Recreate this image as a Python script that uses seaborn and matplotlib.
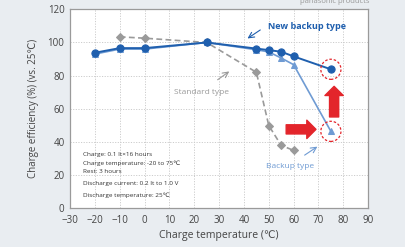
import matplotlib
matplotlib.use("Agg")
import matplotlib.pyplot as plt
import seaborn as sns
import pandas as pd

# data (charge temperature in deg C, efficiency in %)
temp_new = [-20, -10, 0, 25, 45, 50, 55, 60, 75]
eff_new = [93.8, 96.6, 96.6, 100, 96.3, 95.4, 94.4, 91.6, 83.8]

temp_backup = [-20, -10, 0, 25, 45, 50, 55, 60, 75]
eff_backup = [93.0, 96.0, 96.0, 100, 95.6, 94.3, 90.6, 86.6, 46.3]

temp_std = [-10, 0, 25, 45, 50, 55, 60]
eff_std = [103.4, 102.6, 100, 82.0, 49.8, 37.8, 34.8]

x_ticks = [-30, -20, -10, 0, 10, 20, 30, 40, 50, 60, 70, 80, 90]
y_ticks = [0, 20, 40, 60, 80, 100, 120]

conditions = ["Charge: 0.1 It×16 hours",
              "Charge temperature: -20 to 75℃",
              "Rest: 3 hours",
              "Discharge current: 0.2 It to 1.0 V",
              "Discharge temperature: 25℃"]

dark_blue = "#1f5fae"
light_blue = "#6f9bd3"
grey = "#9a9a9a"
red = "#e3252b"

sns.set_style("white")
plt.rcParams['font.family'] = ['Open Sans', 'DejaVu Sans']

fig = plt.figure(figsize=(4.05, 2.47), dpi=100, facecolor="#e9edf1")
ax = fig.add_axes([0.173, 0.158, 0.736, 0.804])
ax.set_facecolor("white")

df_std = pd.DataFrame({"t": temp_std, "e": eff_std})
df_bk = pd.DataFrame({"t": temp_backup, "e": eff_backup})
df_new = pd.DataFrame({"t": temp_new, "e": eff_new})

sns.lineplot(data=df_std, x="t", y="e", ax=ax, color=grey, linestyle=(0, (3.5, 2)),
             linewidth=1.2, marker="D", markersize=4.2, markeredgecolor=grey)
sns.lineplot(data=df_bk, x="t", y="e", ax=ax, color=light_blue, linewidth=1.2,
             marker="^", markersize=4.2, markeredgecolor=light_blue)
sns.lineplot(data=df_new, x="t", y="e", ax=ax, color=dark_blue, linewidth=1.4,
             marker="o", markersize=5.2, markeredgecolor=dark_blue)

ax.set_xlim(-30, 90)
ax.set_ylim(0, 120)
ax.set_xticks(x_ticks)
ax.set_yticks(y_ticks)
ax.tick_params(axis="x", labelsize=7, length=0, pad=5, colors="#444444")
ax.tick_params(axis="y", labelsize=7, length=0, pad=4, colors="#444444")
ax.grid(True, color="#cccccc", linestyle=(0, (1.2, 1.5)), linewidth=0.7)
for s in ax.spines.values():
    s.set_color("#9a9a9a")
    s.set_linewidth(0.9)

ax.set_xlabel("Charge temperature (℃)", fontsize=7.5, color="#444444", labelpad=3)
ax.set_ylabel("Charge efficiency (%) (vs. 25℃)", fontsize=7, color="#444444", labelpad=6)

# dashed red circles around the 75 deg points
ax.scatter([75, 75], [eff_new[-1], eff_backup[-1]], s=210, facecolors="none",
           edgecolors=red, linewidths=0.9, linestyle=(0, (2, 1.5)), zorder=5)

# red arrows
ax.annotate("", xy=(69, 47.5), xytext=(57, 47.5),
            arrowprops=dict(arrowstyle="simple,head_length=0.6,head_width=1.2,tail_width=0.6",
                            color=red, shrinkA=0, shrinkB=0, mutation_scale=11))
ax.annotate("", xy=(76.3, 73.5), xytext=(76.3, 55),
            arrowprops=dict(arrowstyle="simple,head_length=0.6,head_width=1.2,tail_width=0.6",
                            color=red, shrinkA=0, shrinkB=0, mutation_scale=11))

# series labels with thin arrows
ax.text(49.5, 109.5, "New backup type", fontsize=6.5, fontweight="bold",
        color=dark_blue, va="center")
ax.annotate("", xy=(40.5, 101.5), xytext=(47.5, 108.5),
            arrowprops=dict(arrowstyle="->", color=dark_blue, lw=0.8))
ax.text(23, 70, "Standard type", fontsize=6, color=grey, ha="center", va="center")
ax.annotate("", xy=(35, 83.5), xytext=(28.5, 76.5),
            arrowprops=dict(arrowstyle="->", color=grey, lw=0.8))
ax.text(58.5, 25, "Backup type", fontsize=6, color=light_blue, ha="center", va="center")
ax.annotate("", xy=(70.5, 38), xytext=(63.5, 31),
            arrowprops=dict(arrowstyle="->", color=light_blue, lw=0.8))

# test conditions
cond_y = [32.5, 27.2, 21.9, 14.8, 7.6]
for txt, yy in zip(conditions, cond_y):
    ax.text(-24.6, yy, txt, fontsize=4.6, color="#333333", va="center")

fig.text(0.74, 0.992, "panasonic products", fontsize=5.5, color="#999999", va="center")

plt.savefig("out.png", dpi=100, facecolor=fig.get_facecolor())
